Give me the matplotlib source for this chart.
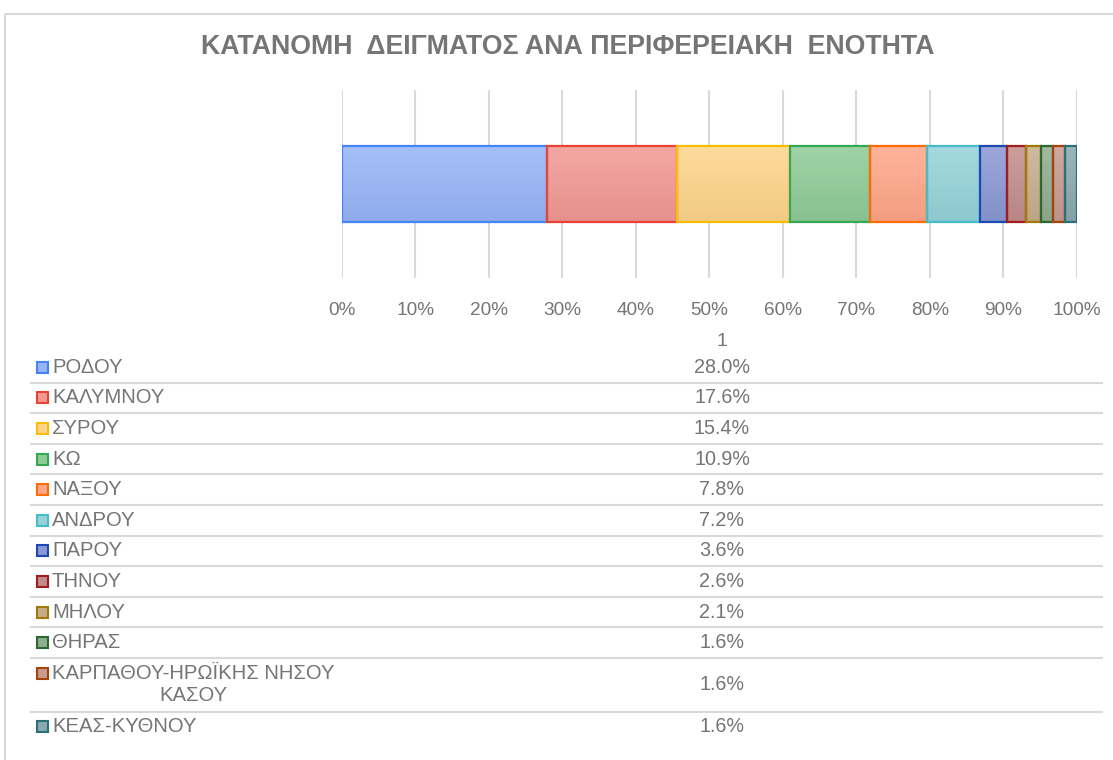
import matplotlib
matplotlib.use('Agg')
import matplotlib.pyplot as plt
import matplotlib.colors as mcolors
from matplotlib.patches import Rectangle
import numpy as np

plt.rcParams['font.family'] = ['Liberation Sans', 'DejaVu Sans']

title = 'ΚΑΤΑΝΟΜΗ  ΔΕΙΓΜΑΤΟΣ ΑΝΑ ΠΕΡΙΦΕΡΕΙΑΚΗ  ΕΝΟΤΗΤΑ'
regions = ['ΡΟΔΟΥ', 'ΚΑΛΥΜΝΟΥ', 'ΣΥΡΟΥ', 'ΚΩ', 'ΝΑΞΟΥ', 'ΑΝΔΡΟΥ', 'ΠΑΡΟΥ',
           'ΤΗΝΟΥ', 'ΜΗΛΟΥ', 'ΘΗΡΑΣ', 'ΚΑΡΠΑΘΟΥ-ΗΡΩΪΚΗΣ ΝΗΣΟΥ\nΚΑΣΟΥ', 'ΚΕΑΣ-ΚΥΘΝΟΥ']
shares = [28.0, 17.6, 15.4, 10.9, 7.8, 7.2, 3.6, 2.6, 2.1, 1.6, 1.6, 1.6]
ticks = [0, 10, 20, 30, 40, 50, 60, 70, 80, 90, 100]
fills = ['#97b4f8', '#f29892', '#fed48a', '#8fcb98', '#ffa688', '#94d3d9',
         '#8a98d4', '#c38c8c', '#c6ae8c', '#90ad91', '#c79b8e', '#8aa9ad']
edges = ['#4285f4', '#ea4335', '#fbbc04', '#34a853', '#ff6d01', '#46bdc6',
         '#1c4ab0', '#a11d1d', '#a07a05', '#2a6a30', '#a6430d', '#2b7079']

W, H = 1113, 760
grey = '#757575'
line_grey = '#d9d9d9'

fig = plt.figure(figsize=(W / 100, H / 100), dpi=100)

# overlay in pixel coordinates for frame, title and data table
ov = fig.add_axes([0, 0, 1, 1], zorder=0)
ov.set_xlim(0, W)
ov.set_ylim(H, 0)
ov.axis('off')
ov.add_patch(Rectangle((5, 14), W + 20, H + 20, fill=False, ec=line_grey, lw=1.5))
ov.text(568, 47, title, ha='center', va='center', fontsize=19.3,
        fontweight='bold', color=grey)

# bar chart
x0, x1 = 341.5, 1076.7
y_top, y_bot = 90, 278
ax = fig.add_axes([x0 / W, 1 - y_bot / H, (x1 - x0) / W, (y_bot - y_top) / H], zorder=1)
ax.set_facecolor('none')
ax.set_xlim(0, 100)
ax.set_ylim(-0.5, 0.5)
left = 0
for v, fc, ec in zip(shares, fills, edges):
    bar = ax.barh(0, v, left=left, height=0.404, color='none', edgecolor=ec,
                  linewidth=1.6, zorder=3)[0]
    base = np.array(mcolors.to_rgb(fc))
    top = base + (1 - base) * 0.15
    bot = base * 0.95
    grad = np.linspace(0, 1, 64)[:, None, None]
    img = top * (1 - grad) + bot * grad
    im = ax.imshow(img, extent=[left, left + v, -0.202, 0.202], origin='upper',
                   aspect='auto', zorder=2, interpolation='bilinear')
    im.set_clip_path(bar)
    left += v
ax.set_xticks(ticks)
ax.set_xticklabels([f'{t}%' for t in ticks])
ax.set_yticks([])
ax.grid(axis='x', color=line_grey, linewidth=1.5, zorder=0)
for s in ax.spines.values():
    s.set_visible(False)
ax.tick_params(axis='x', length=0, pad=17, labelsize=13.7, labelcolor=grey)

# data table
val_x = 722
ov.text(val_x, 341, '1', ha='center', va='center', fontsize=14, color=grey)
y = 352
for name, v, fc, ec in zip(regions, shares, fills, edges):
    n_lines = name.count('\n') + 1
    h = 30.6 if n_lines == 1 else 53.5
    first = y + 15.3
    ov.add_patch(Rectangle((37, first - 5.5), 11, 11, fc=fc, ec=ec, lw=1.5))
    ov.text(52, y + h / 2, name, ha='left', va='center', fontsize=14.6,
            color=grey, multialignment='center', linespacing=1.2)
    ov.text(val_x, y + h / 2, f'{v:.1f}%', ha='center', va='center',
            fontsize=14.2, color=grey)
    y += h
    if name != regions[-1]:
        ov.plot([31, 1102], [y, y], color=line_grey, lw=1.5)

fig.savefig('out.png', dpi=100)
